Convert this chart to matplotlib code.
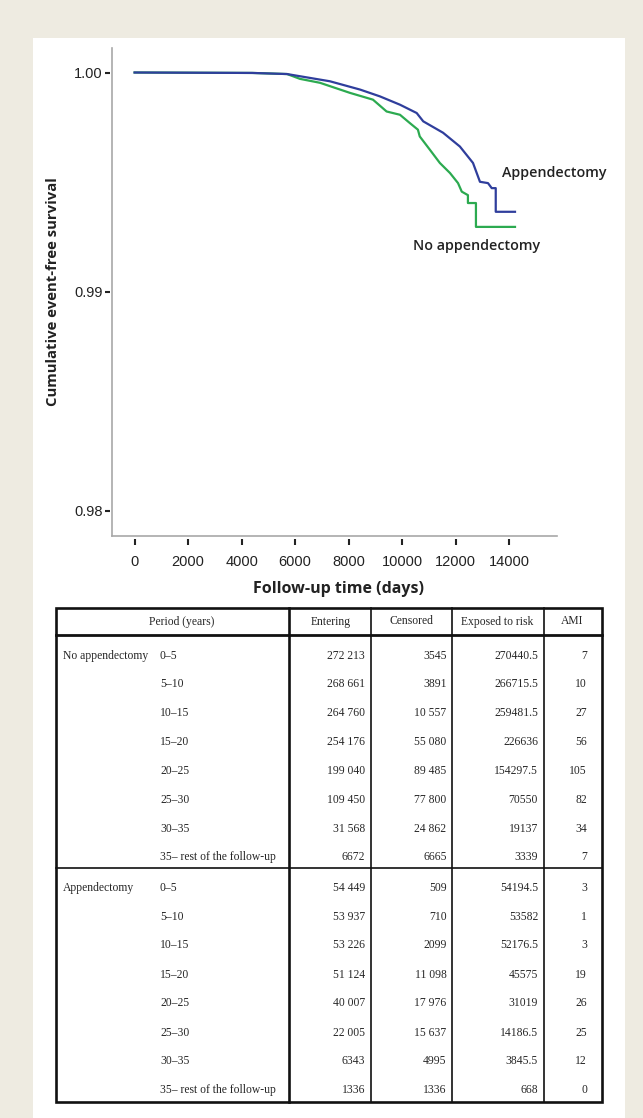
import matplotlib.pyplot as plt
from matplotlib.patches import Rectangle

# Kaplan-Meier curves
app_days = [0, 4400, 5700, 6180, 7300, 8430, 9170, 9920, 10545, 10790, 11530,
            12160, 12650, 12910, 13210, 13350, 13500, 13500, 14220]
app_surv = [1.0, 0.99998, 0.99993, 0.99983, 0.99960, 0.99922, 0.99891, 0.99853,
            0.99815, 0.99777, 0.99725, 0.99662, 0.99587, 0.99501, 0.99495,
            0.99472, 0.99472, 0.99364, 0.99364]

noapp_days = [0, 4400, 5700, 6180, 6930, 8050, 8910, 9420, 9920, 10290, 10590,
              10660, 11040, 11410, 11790, 12090, 12230, 12460, 12460, 12760,
              12760, 14220]
noapp_surv = [1.0, 0.99998, 0.99993, 0.99971, 0.99953, 0.99907, 0.99876, 0.99822,
              0.99807, 0.99769, 0.99739, 0.99708, 0.99647, 0.99587, 0.99541,
              0.99495, 0.99456, 0.99440, 0.99404, 0.99404, 0.99295, 0.99295]

x_ticks = [0, 2000, 4000, 6000, 8000, 10000, 12000, 14000]
y_ticks = [0.98, 0.99, 1.00]

# table data
periods = ['0\u20135', '5\u201310', '10\u201315', '15\u201320', '20\u201325',
           '25\u201330', '30\u201335', '35\u2013 rest of the follow-up']
groups = ['No appendectomy', 'Appendectomy']
headers = ['Period (years)', 'Entering', 'Censored', 'Exposed to risk', 'AMI']

noapp_entering = [272213, 268661, 264760, 254176, 199040, 109450, 31568, 6672]
noapp_censored = [3545, 3891, 10557, 55080, 89485, 77800, 24862, 6665]
noapp_exposed = [270440.5, 266715.5, 259481.5, 226636, 154297.5, 70550, 19137, 3339]
noapp_ami = [7, 10, 27, 56, 105, 82, 34, 7]

app_entering = [54449, 53937, 53226, 51124, 40007, 22005, 6343, 1336]
app_censored = [509, 710, 2099, 11098, 17976, 15637, 4995, 1336]
app_exposed = [54194.5, 53582, 52176.5, 45575, 31019, 14186.5, 3845.5, 668]
app_ami = [3, 1, 3, 19, 26, 25, 12, 0]


def fmt_count(v):
    s = str(v)
    if v >= 10000:
        s = s[:-3] + ' ' + s[-3:]
    return s


def fmt_exp(v):
    return str(int(v)) if v == int(v) else f'{v:.1f}'


W, H = 643, 1118
fig = plt.figure(figsize=(W / 100, H / 100), dpi=100, facecolor='#eeebe1')

# background layer in pixel coordinates (panel + table)
bg = fig.add_axes([0, 0, 1, 1], zorder=0)
bg.set_xlim(0, W)
bg.set_ylim(H, 0)
bg.axis('off')
bg.add_patch(Rectangle((33, 38), 592, H - 38, facecolor='white', edgecolor='none'))

# ---- survival plot ----
ax_l, ax_r, ax_t, ax_b = 112, 557, 48, 536
ax = fig.add_axes([ax_l / W, 1 - ax_b / H, (ax_r - ax_l) / W, (ax_b - ax_t) / H], zorder=2)
ax.set_facecolor('none')

blue = '#2f3e9c'
green = '#2caa50'
ax.plot(noapp_days, noapp_surv, color=green, lw=1.6)
ax.plot(app_days, app_surv, color=blue, lw=1.6)

ax.set_xlim(-845, 15790)
ax.set_ylim(0.978836, 1.001119)
ax.set_xticks(x_ticks)
ax.set_yticks(y_ticks)
ax.set_yticklabels([f'{v:.2f}' for v in y_ticks])

for s in ['top', 'right']:
    ax.spines[s].set_visible(False)
ax.spines['left'].set_position(('outward', 1.2))
ax.spines['bottom'].set_position(('outward', 2.2))
ax.spines['left'].set_color('none')
ax.spines['bottom'].set_color('none')
# visible axis lines
ax.plot([0, 0], [0, 1], transform=ax.transAxes, color='#a8a8a8', lw=1.2, clip_on=False)
ax.plot([0, 1], [0, 0], transform=ax.transAxes, color='#a8a8a8', lw=1.2, clip_on=False)

ax.tick_params(axis='y', direction='out', length=3.5, width=1.5, color='#222222',
               pad=2, labelsize=10.5, labelcolor='#222222')
ax.tick_params(axis='x', direction='out', length=4.3, width=1.5, color='#222222',
               pad=7, labelsize=10.5, labelcolor='#222222')
for lab in ax.get_xticklabels() + ax.get_yticklabels():
    lab.set_family('Liberation Sans')

ax.set_xlabel('Follow-up time (days)', family='Open Sans', fontweight='bold',
              fontsize=11.5, color='#222222')
ax.xaxis.label.set_va('center')
ax.xaxis.set_label_coords((338.5 - ax_l) / (ax_r - ax_l), -(589 - ax_b) / (ax_b - ax_t))
ax.set_ylabel('Cumulative event-free survival', family='Open Sans', fontweight='bold',
              fontsize=10.7, color='#222222')
ax.yaxis.label.set_va('center')
ax.yaxis.set_label_coords((53 - ax_l) / (ax_r - ax_l), (ax_b - 292) / (ax_b - ax_t))

ax.text(13720, 0.99542, 'Appendectomy', family='Open Sans', fontweight='semibold',
        fontsize=10.3, color='#222222', ha='left', va='center', clip_on=False)
ax.text(10400, 0.99208, 'No appendectomy', family='Open Sans', fontweight='semibold',
        fontsize=10.3, color='#222222', ha='left', va='center', clip_on=False)

# ---- table ----
t_left, t_right, t_top, t_bot = 55.7, 601.7, 608, 1101.7
head_line = 635
col_lines = [289, 371, 452.3, 543.7]
group_line = 868
rows_1 = [655.7, 684, 713, 742, 771, 800, 829, 857]
rows_2 = [888, 917, 945.5, 974.5, 1003, 1032.5, 1061.5, 1090]

lc = '#111111'
bg.add_patch(Rectangle((t_left, t_top), t_right - t_left, t_bot - t_top,
                       facecolor='none', edgecolor=lc, lw=1.9))
bg.plot([t_left, t_right], [head_line, head_line], color=lc, lw=2.0)
bg.plot([col_lines[0], col_lines[0]], [t_top, t_bot], color=lc, lw=1.9)
for x in col_lines[1:]:
    bg.plot([x, x], [t_top, t_bot], color=lc, lw=1.2)
bg.plot([t_left, t_right], [group_line, group_line], color=lc, lw=1.2)

tf = dict(family='Liberation Serif', fontsize=8.4, color='#262626', va='center')
head_x = [182, 331, 411.5, 497.5, 572]
for hx, h in zip(head_x, headers):
    bg.text(hx, 621.5, h, ha='center', **tf)

x_group, x_period = 63, 160
x_ent, x_cen, x_exp, x_ami = 365, 446.5, 538, 587

tables = [
    (groups[0], rows_1, noapp_entering, noapp_censored, noapp_exposed, noapp_ami),
    (groups[1], rows_2, app_entering, app_censored, app_exposed, app_ami),
]
for name, rows, ent, cen, exp_, ami in tables:
    bg.text(x_group, rows[0], name, ha='left', **tf)
    for i, y in enumerate(rows):
        bg.text(x_period, y, periods[i], ha='left', **tf)
        bg.text(x_ent, y, fmt_count(ent[i]), ha='right', **tf)
        bg.text(x_cen, y, fmt_count(cen[i]), ha='right', **tf)
        bg.text(x_exp, y, fmt_exp(exp_[i]), ha='right', **tf)
        bg.text(x_ami, y, str(ami[i]), ha='right', **tf)

fig.savefig('out.png', dpi=100, facecolor=fig.get_facecolor())
